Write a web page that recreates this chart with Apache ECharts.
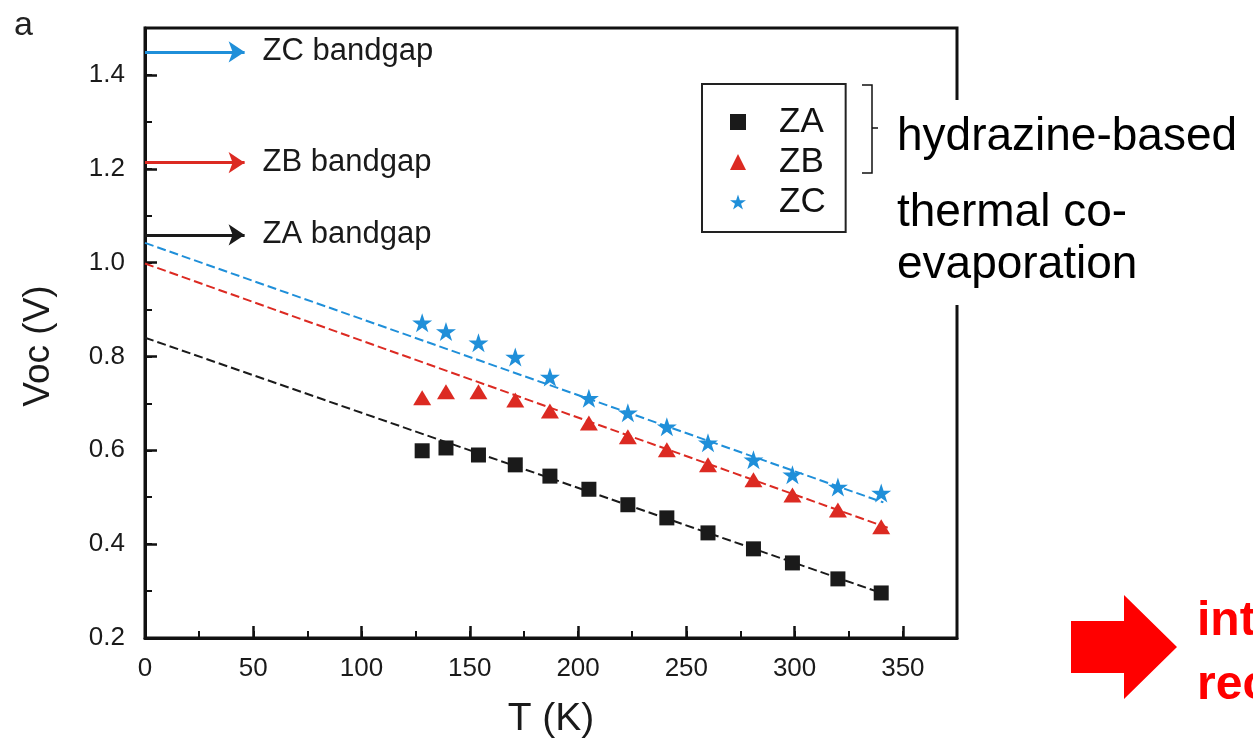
<!DOCTYPE html>
<html>
<head>
<meta charset="utf-8">
<title>Voc vs T</title>
<script src="https://cdn.jsdelivr.net/npm/echarts@6/dist/echarts.min.js"></script>
<style>
  html, body { margin: 0; padding: 0; background: #fff; }
  #chart { width: 1253px; height: 744px; }
</style>
</head>
<body>
<div id="chart"></div>
<script>
// Temperatures (K) of the measurements
const temps = [128, 139, 154, 171, 187, 205, 223, 241, 260, 281, 299, 320, 340];
// Open-circuit voltage (V) per sample
const vocZA = [0.599, 0.605, 0.590, 0.569, 0.545, 0.517, 0.484, 0.456, 0.424, 0.390, 0.360, 0.326, 0.296];
const vocZB = [0.712, 0.725, 0.725, 0.707, 0.684, 0.658, 0.629, 0.601, 0.569, 0.537, 0.505, 0.473, 0.437];
const vocZC = [0.872, 0.853, 0.829, 0.799, 0.756, 0.711, 0.680, 0.650, 0.616, 0.580, 0.548, 0.522, 0.509];
// Linear extrapolations to 0 K: [T, V] start and end
const fitZA = [[0, 0.840], [340, 0.296]];
const fitZB = [[0, 0.998], [343, 0.435]];
const fitZC = [[0, 1.042], [341, 0.489]];
// Bandgap levels (eV) and the arrow length in K
const bandgaps = { ZA: 1.059, ZB: 1.213, ZC: 1.449 };
const arrowLen = 46;
// Axis ticks
const xTicks = { min: 0, max: 375, major: 50, minor: 25 };
const yTicks = { min: 0.2, max: 1.5, major: 0.2, minor: 0.1 };

const colors = { ZA: '#1a1a1a', ZB: '#dc2a22', ZC: '#1f8fd9' };
const FONT = "'Liberation Sans', Arial, sans-serif";
const STAR = 'path://M50 0 L61.23 34.55 L97.55 34.55 L68.16 55.9 L79.39 90.45 L50 69.1 L20.61 90.45 L31.84 55.9 L2.45 34.55 L38.77 34.55 Z';

function pts(vals) { return temps.map((t, i) => [t, vals[i]]); }

function fitSeries(name, key, line) {
  return {
    name: name,
    type: 'line',
    data: line,
    showSymbol: false,
    symbol: 'none',
    silent: true,
    z: 1,
    lineStyle: { color: colors[key], width: 2, type: [9, 4] },
    markLine: {
      silent: true,
      symbol: ['none', 'arrow'],
      symbolSize: 16,
      lineStyle: { color: colors[key], width: 3, type: 'solid' },
      label: {
        show: true, position: 'end', distance: 18,
        formatter: key + ' bandgap',
        color: '#1a1a1a', fontSize: 31, fontFamily: FONT
      },
      data: [[{ coord: [0, bandgaps[key]] }, { coord: [arrowLen, bandgaps[key]] }]]
    }
  };
}

const chart = echarts.init(document.getElementById('chart'), null, { renderer: 'canvas' });

const tickLabel = { color: '#1a1a1a', fontSize: 26, fontFamily: FONT };

chart.setOption({
  animation: false,
  backgroundColor: '#fff',
  grid: {
    left: 145, top: 28, right: 296, bottom: 106,
    show: true, borderColor: '#111', borderWidth: 3, backgroundColor: 'transparent'
  },
  xAxis: [{
    type: 'value', min: xTicks.min, max: xTicks.max, interval: xTicks.major,
    position: 'bottom',
    name: 'T (K)', nameLocation: 'middle', nameGap: 62,
    nameTextStyle: { color: '#1a1a1a', fontSize: 39, fontFamily: FONT },
    axisLine: { show: true, lineStyle: { color: '#111', width: 3 } },
    axisTick: { show: true, inside: true, length: 12, lineStyle: { color: '#111', width: 2.5 } },
    axisLabel: Object.assign({ margin: 18, showMaxLabel: false }, tickLabel),
    splitLine: { show: false }
  }, {
    type: 'value', min: xTicks.min, max: xTicks.max, interval: xTicks.minor,
    position: 'bottom',
    axisLine: { show: false },
    axisTick: { show: true, inside: true, length: 7, lineStyle: { color: '#111', width: 2 } },
    axisLabel: { show: false },
    splitLine: { show: false }
  }],
  yAxis: [{
    type: 'value', min: yTicks.min, max: yTicks.max, interval: yTicks.major,
    position: 'left',
    name: 'Voc (V)', nameLocation: 'middle', nameGap: 88,
    nameTextStyle: { color: '#1a1a1a', fontSize: 37, fontFamily: FONT, padding: [0, 26, 0, 0] },
    axisLine: { show: true, lineStyle: { color: '#111', width: 3 } },
    axisTick: { show: true, inside: true, length: 12, lineStyle: { color: '#111', width: 2.5 } },
    axisLabel: Object.assign({ margin: 20, showMaxLabel: false, formatter: v => v.toFixed(1) }, tickLabel),
    splitLine: { show: false }
  }, {
    type: 'value', min: yTicks.min, max: yTicks.max, interval: yTicks.minor,
    position: 'left',
    axisLine: { show: false },
    axisTick: { show: true, inside: true, length: 7, lineStyle: { color: '#111', width: 2 } },
    axisLabel: { show: false },
    splitLine: { show: false }
  }],
  legend: {
    data: ['ZA', 'ZB', 'ZC'],
    orient: 'vertical',
    left: 702, top: 84,
    padding: [18, 20, 10, 28],
    itemGap: 0,
    itemWidth: 16, itemHeight: 16,
    backgroundColor: '#fff',
    borderColor: '#222', borderWidth: 2, borderRadius: 0,
    selectedMode: false,
    formatter: name => '{s|}{n|' + name + '}',
    textStyle: {
      color: '#111', fontFamily: FONT, fontSize: 35, lineHeight: 40,
      rich: { s: { width: 28 }, n: { fontSize: 35, fontFamily: FONT, color: '#111', lineHeight: 40 } }
    }
  },
  series: [
    fitSeries('ZA fit', 'ZA', fitZA),
    fitSeries('ZB fit', 'ZB', fitZB),
    fitSeries('ZC fit', 'ZC', fitZC),
    {
      name: 'ZA', type: 'scatter', data: pts(vocZA), z: 3,
      symbol: 'rect', symbolSize: 15,
      itemStyle: { color: colors.ZA, opacity: 1 }
    },
    {
      name: 'ZB', type: 'scatter', data: pts(vocZB), z: 3,
      symbol: 'triangle', symbolSize: [18, 15],
      itemStyle: { color: colors.ZB, opacity: 1 }
    },
    {
      name: 'ZC', type: 'scatter', data: pts(vocZC), z: 3,
      symbol: STAR, symbolKeepAspect: true, symbolSize: 20,
      itemStyle: { color: colors.ZC, opacity: 1 }
    }
  ],
  graphic: [
    // panel letter
    { type: 'text', left: 14, top: 9, z: 10,
      style: { text: 'a', fontSize: 34, fontFamily: FONT, fill: '#222' } },
    // white plate behind the side notes (breaks the right frame)
    { type: 'rect', z: 20, shape: { x: 885, y: 100, width: 368, height: 205 },
      style: { fill: '#fff' } },
    // brace grouping ZA and ZB
    { type: 'polyline', z: 21,
      shape: { points: [[862, 85], [872, 85], [872, 128], [878, 128], [872, 128], [872, 173], [862, 173]] },
      style: { stroke: '#111', lineWidth: 1.5, fill: null } },
    { type: 'text', x: 897, y: 137, z: 21,
      style: { text: 'hydrazine-based', fontSize: 46, fontFamily: FONT, fill: '#000', verticalAlign: 'middle' } },
    { type: 'text', x: 897, y: 213, z: 21,
      style: { text: 'thermal co-', fontSize: 46, fontFamily: FONT, fill: '#000', verticalAlign: 'middle' } },
    { type: 'text', x: 897, y: 265, z: 21,
      style: { text: 'evaporation', fontSize: 46, fontFamily: FONT, fill: '#000', verticalAlign: 'middle' } },
    // red block arrow with note
    { type: 'polygon', z: 21,
      shape: { points: [[1071, 621], [1124, 621], [1124, 595], [1177, 647], [1124, 699], [1124, 673], [1071, 673]] },
      style: { fill: '#ff0000' } },
    { type: 'text', x: 1197, y: 622, z: 21,
      style: { text: 'interface', fontSize: 48, fontWeight: 'bold', fontFamily: FONT, fill: '#ff0000', verticalAlign: 'middle' } },
    { type: 'text', x: 1197, y: 686, z: 21,
      style: { text: 'recombination', fontSize: 48, fontWeight: 'bold', fontFamily: FONT, fill: '#ff0000', verticalAlign: 'middle' } }
  ]
});
</script>
</body>
</html>
